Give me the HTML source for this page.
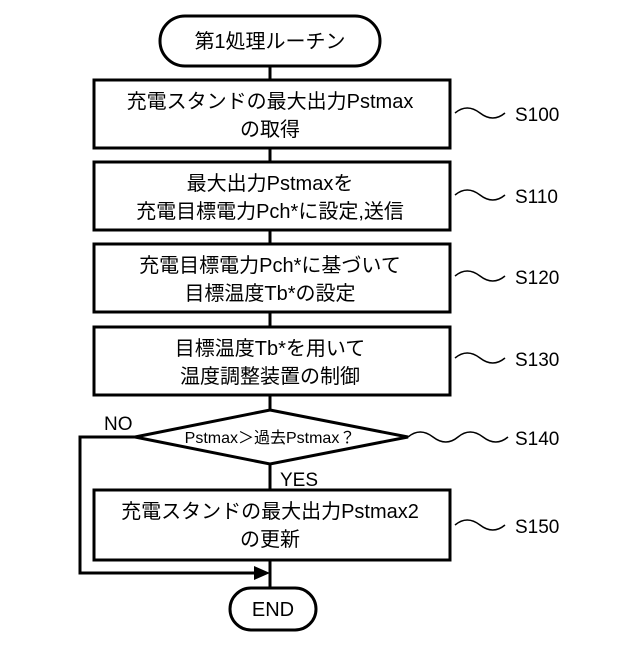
<!DOCTYPE html>
<html><head><meta charset="utf-8"><style>
body{margin:0;background:#fff}
svg text{font-family:"Liberation Sans","Noto Sans CJK JP",sans-serif;fill:#000}
</style></head><body>
<svg width="640" height="640" viewBox="0 0 640 640" xmlns="http://www.w3.org/2000/svg">
<g fill="none" stroke="#000" stroke-width="3">
<rect x="160" y="16" width="220" height="50" rx="25"/>
<line x1="270" y1="66" x2="270" y2="80"/>
<rect x="94" y="80" width="356" height="68"/>
<line x1="270" y1="148" x2="270" y2="162"/>
<rect x="94" y="162" width="356" height="68"/>
<line x1="270" y1="230" x2="270" y2="244"/>
<rect x="94" y="244" width="356" height="68"/>
<line x1="270" y1="312" x2="270" y2="327"/>
<rect x="94" y="327" width="356" height="68"/>
<line x1="270" y1="395" x2="270" y2="410"/>
<polygon points="270,410 408,437 270,464 135,437"/>
<line x1="270" y1="464" x2="270" y2="490"/>
<rect x="94" y="490" width="356" height="70"/>
<line x1="270" y1="560" x2="270" y2="588"/>
<polyline points="135,437 80,437 80,573 258,573"/>
<rect x="230" y="588" width="86" height="42" rx="21"/>
</g>
<polygon points="270,573 254,566 254,580" fill="#000"/>
<g fill="none" stroke="#000" stroke-width="1.5">
<path d="M455,113 q12,-10 25,0 t25,0"/>
<path d="M455,195 q12,-10 25,0 t25,0"/>
<path d="M455,276 q12,-10 25,0 t25,0"/>
<path d="M455,358 q12,-10 25,0 t25,0"/>
<path d="M408,437 q12,-10 25,0 t25,0 t25,0 t25,0"/>
<path d="M455,525 q12,-10 25,0 t25,0"/>
</g>
<g font-size="20" text-anchor="middle">
<text x="270" y="48">第1処理ルーチン</text>
<text x="270" y="108">充電スタンドの最大出力Pstmax</text>
<text x="270" y="136">の取得</text>
<text x="270" y="190">最大出力Pstmaxを</text>
<text x="270" y="218">充電目標電力Pch*に設定,送信</text>
<text x="270" y="272">充電目標電力Pch*に基づいて</text>
<text x="270" y="300">目標温度Tb*の設定</text>
<text x="270" y="355">目標温度Tb*を用いて</text>
<text x="270" y="383">温度調整装置の制御</text>
<text x="270" y="518">充電スタンドの最大出力Pstmax2</text>
<text x="270" y="546">の更新</text>
<text x="273" y="616">END</text>
</g>
<text x="270" y="443" font-size="16" text-anchor="middle">Pstmax＞過去Pstmax？</text>
<g font-size="19">
<text x="104" y="430">NO</text>
<text x="280" y="486">YES</text>
<text x="515" y="121">S100</text>
<text x="515" y="203">S110</text>
<text x="515" y="284">S120</text>
<text x="515" y="366">S130</text>
<text x="515" y="445">S140</text>
<text x="515" y="533">S150</text>
</g>
</svg>
</body></html>
